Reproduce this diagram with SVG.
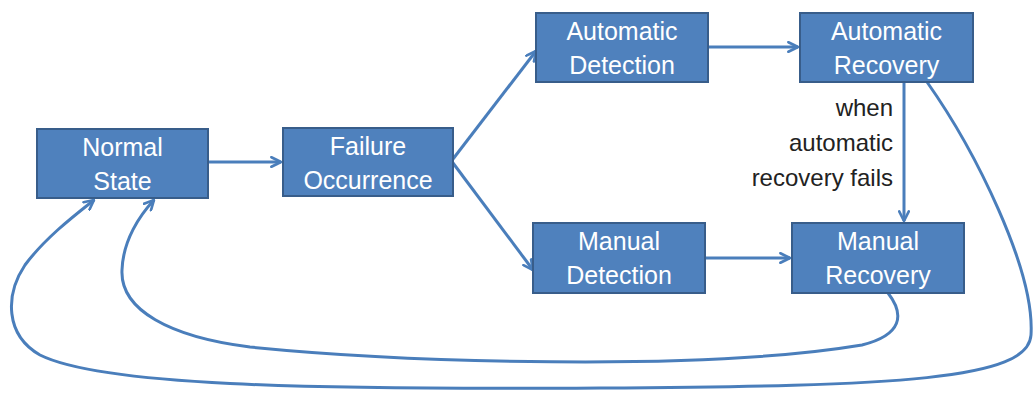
<svg xmlns="http://www.w3.org/2000/svg" width="1034" height="394" viewBox="0 0 1034 394">
<style>
.box{fill:#4f81bd;stroke:#385d8a;stroke-width:2}
.lbl{fill:#ffffff;font-family:"Liberation Sans",Arial,sans-serif;font-size:25px;text-anchor:middle}
.note{fill:#222222;font-family:"Liberation Sans",Arial,sans-serif;font-size:24px;text-anchor:end}
.c{fill:none;stroke:#4a7ebb;stroke-width:3;marker-end:url(#ah)}
</style>
<defs>
<marker id="ah" viewBox="0 0 10 10" refX="9" refY="5" markerWidth="4" markerHeight="4" orient="auto" markerUnits="strokeWidth">
<path d="M1 1 L9 5 L1 9" fill="none" stroke="#4a7ebb" stroke-width="2.2" stroke-linecap="round" stroke-linejoin="round"/>
</marker>
</defs>
<g id="connectors">
<path class="c" d="M208 162 L281 162"/>
<path class="c" d="M453 159 L536 51"/>
<path class="c" d="M453 163 L533 270"/>
<path class="c" d="M708 47 L798 47"/>
<path class="c" d="M705 258 L790 258"/>
<path class="c" d="M904 82 L904 221"/>
<path class="c" d="M888 293 C905 315 902 335 862 345 C700 372 400 362 250 347 C170 337 120 310 122 270 C123 240 140 215 154 200"/>
<path class="c" d="M927 82 C975 150 1035 270 1031 335 C1028 380 900 386 600 388 C300 390 100 385 40 355 C5 335 5 295 25 265 C45 238 75 215 94 200"/>
</g>
<g id="normal-state"><rect class="box" x="37" y="129" width="171" height="69"/><text class="lbl" x="122.5" y="156">Normal</text><text class="lbl" x="122.5" y="190">State</text></g>
<g id="failure-occurrence"><rect class="box" x="283" y="128" width="170" height="68"/><text class="lbl" x="368" y="155">Failure</text><text class="lbl" x="368" y="189">Occurrence</text></g>
<g id="automatic-detection"><rect class="box" x="536" y="13" width="172" height="69"/><text class="lbl" x="622" y="40">Automatic</text><text class="lbl" x="622" y="74">Detection</text></g>
<g id="automatic-recovery"><rect class="box" x="800" y="13" width="173" height="69"/><text class="lbl" x="886.5" y="40">Automatic</text><text class="lbl" x="886.5" y="74">Recovery</text></g>
<g id="manual-detection"><rect class="box" x="533" y="223" width="172" height="70"/><text class="lbl" x="619" y="250">Manual</text><text class="lbl" x="619" y="284">Detection</text></g>
<g id="manual-recovery"><rect class="box" x="792" y="223" width="172" height="70"/><text class="lbl" x="878" y="250">Manual</text><text class="lbl" x="878" y="284">Recovery</text></g>
<g id="failure-note"><text class="note" x="893" y="116">when</text><text class="note" x="893" y="151">automatic</text><text class="note" x="893" y="186">recovery fails</text></g>
</svg>
